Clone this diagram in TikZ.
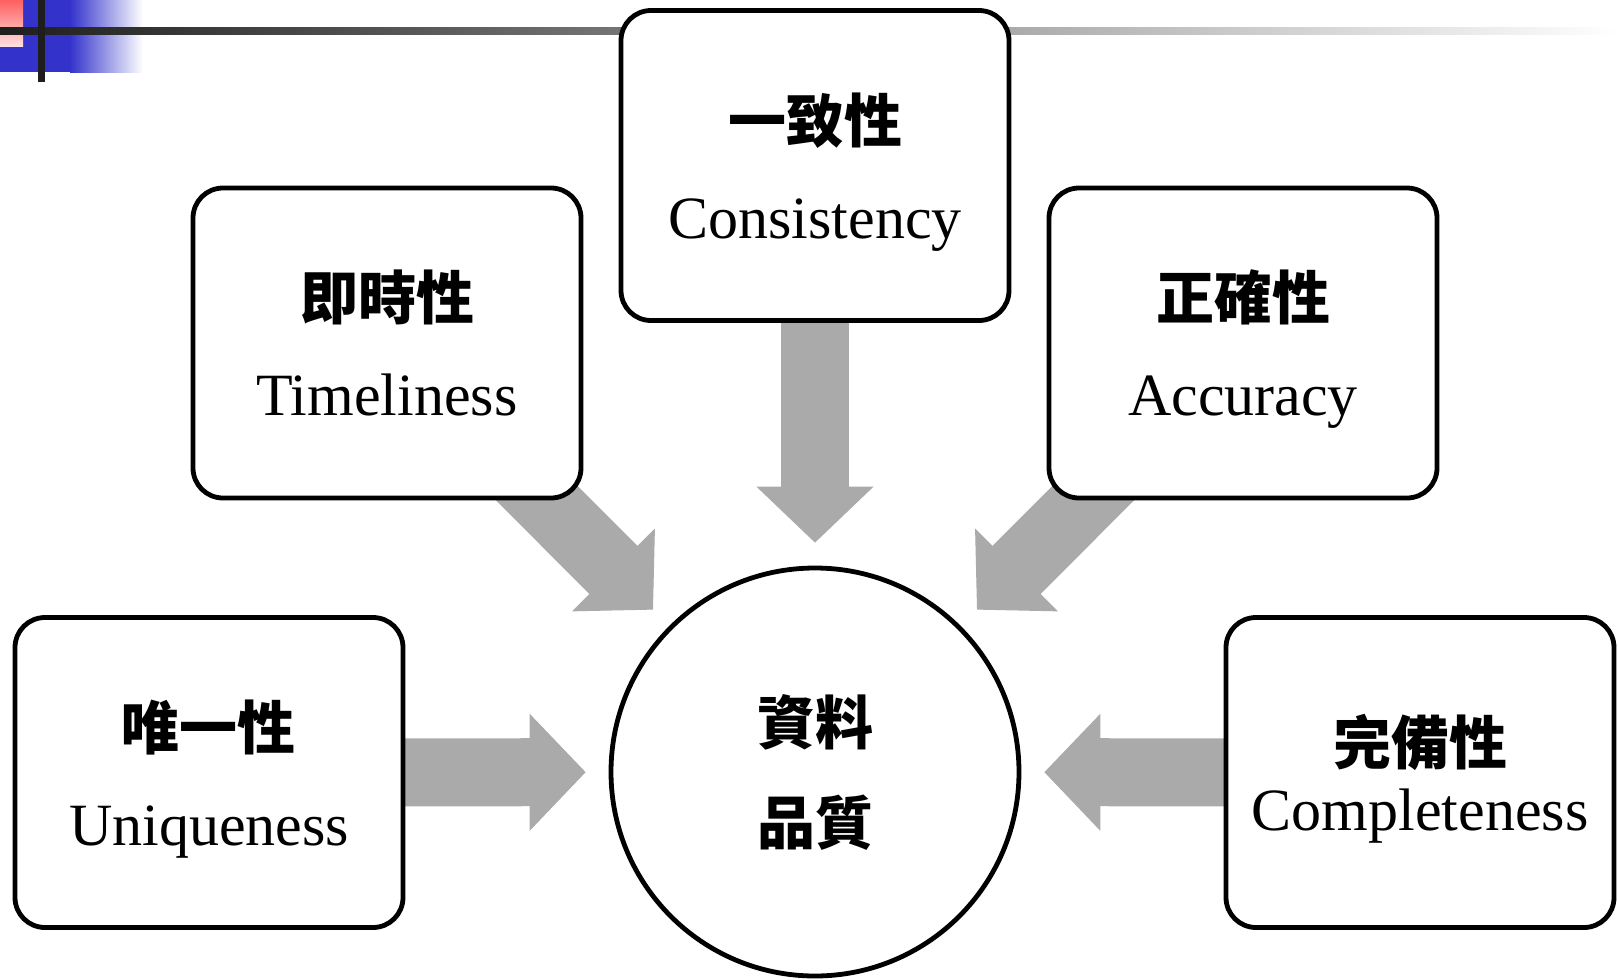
\documentclass[tikz,border=0pt]{standalone}
\usepackage{fontspec}
\setmainfont{Liberation Serif}
\newfontfamily\zhfont{Noto Sans CJK TC}
\usetikzlibrary{arrows.meta}
\pgfdeclarelayer{background}
\pgfsetlayers{background,main}
\definecolor{arrowgray}{HTML}{AAAAAA}
\definecolor{barblue}{HTML}{3333CC}
\definecolor{barred}{HTML}{FF5F5F}
\definecolor{barline}{HTML}{1E1E1E}
\newcommand{\zh}[1]{{\zhfont\bfseries\fontsize{29}{48}\selectfont #1}}
\tikzset{
  qualbox/.style={draw, line width=2.4pt, rounded corners=15pt, fill=white,
    minimum width=194pt, minimum height=155pt, inner sep=0pt, align=center,
    text depth=0pt, font=\fontsize{30}{48}\selectfont},
  corecircle/.style={circle, draw, line width=2.4pt, fill=white, minimum size=204pt,
    inner sep=0pt, align=center, font=\fontsize{30}{50}\selectfont},
  fatarrow/.style={draw=arrowgray, line width=34pt,
    -{Triangle[length=28pt,width=58.5pt,line width=0.6pt]}, shorten >=11.5pt}
}
\begin{document}
\begin{tikzpicture}[x=0.5pt,y=-0.5pt]
    \useasboundingbox (0,0) rectangle (1618,980);

    \node[qualbox] (cons) at (815,165.5) {\zh{一致性}\\Consistency};
    \node[qualbox] (time) at (387,343) {\zh{即時性}\\Timeliness};
    \node[qualbox] (accu) at (1243,343) {\zh{正確性}\\Accuracy};
    \node[qualbox] (uniq) at (209,772.5) {\zh{唯一性}\\Uniqueness};
    \node[qualbox, font=\fontsize{30}{33}\selectfont] (comp) at (1420,772.5) {\zh{完備性}\\Completeness};

    \node[corecircle] (data) at (815,772) {\zh{資料}\\\zh{品質}};

    \begin{pgfonlayer}{background}
        \fill[barblue] (0,0) rectangle (70,72);
        \shade[left color=barblue, right color=white] (70,0) rectangle (143,72);
        \shade[top color=barred, bottom color=barred!20] (0,0) rectangle (23,46);
        \shade[left color=barline, middle color=black!35, right color=white] (0,27) rectangle (1618,34);
        \fill[barline] (38,0) rectangle (45,82);

        \draw[fatarrow] (cons.center) -- (data);
        \draw[fatarrow] (time.center) -- (data);
        \draw[fatarrow] (accu.center) -- (data);
        \draw[fatarrow] (uniq.center) -- (data);
        \draw[fatarrow] (comp.center) -- (data);
    \end{pgfonlayer}

\end{tikzpicture}
\end{document}
